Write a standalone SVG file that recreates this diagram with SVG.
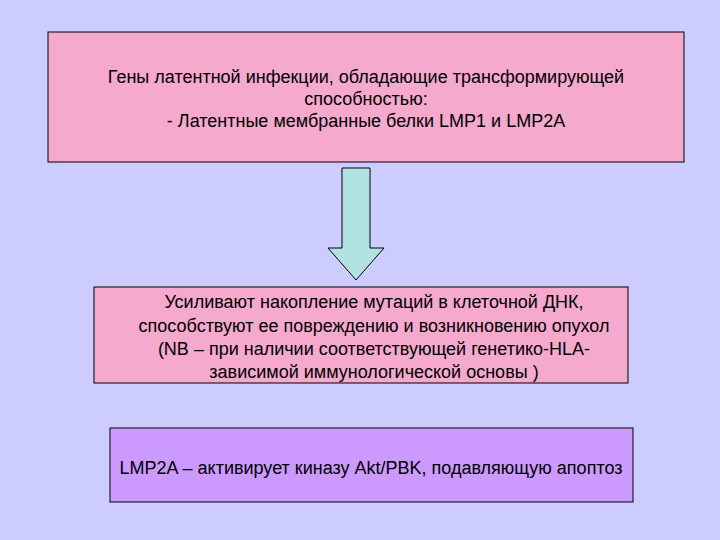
<svg xmlns="http://www.w3.org/2000/svg" width="720" height="540" viewBox="0 0 720 540">
<style>
.box{stroke:#000;stroke-width:1}
.t{font-family:"Liberation Sans",Arial,sans-serif;font-size:18px;fill:#000;text-anchor:middle}
</style>
<rect width="720" height="540" fill="#CCCCFF"/>
<g id="node1"><rect class="box" x="48" y="32" width="636" height="130" fill="#F5A9CD"/>
<text class="t" x="366" y="83">Гены латентной инфекции, обладающие трансформирующей</text>
<text class="t" x="366" y="105">способностью:</text>
<text class="t" x="366" y="127">- Латентные мембранные белки LMP1 и LMP2A</text></g>
<g id="connectors"><path class="box" d="M342,168 H370 V248 H384 L356,280 L328,248 H342 Z" fill="#B3E2E3"/></g>
<g id="node2"><rect class="box" x="94" y="287" width="534" height="96" fill="#F5A9CD"/>
<text class="t" x="374" y="308">Усиливают накопление мутаций в клеточной ДНК,</text>
<text class="t" x="374" y="332">способствуют ее повреждению и возникновению опухол</text>
<text class="t" x="374" y="355">(NB – при наличии соответствующей генетико-HLA-</text>
<text class="t" x="374" y="378">зависимой иммунологической основы )</text></g>
<g id="node3"><rect class="box" x="110" y="428" width="523" height="74" fill="#CC99FF"/>
<text class="t" x="371" y="474">LMP2A – активирует киназу Akt/PBK, подавляющую апоптоз</text></g>
</svg>
